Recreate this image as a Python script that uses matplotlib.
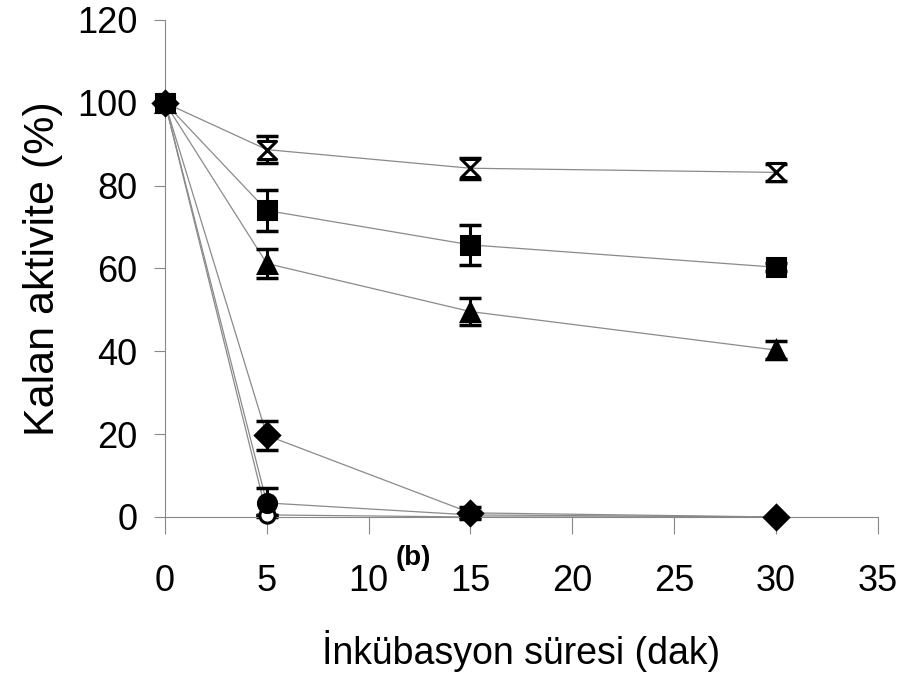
import matplotlib
matplotlib.use("Agg")
import matplotlib.pyplot as plt
from matplotlib.path import Path
import numpy as np

plt.rcParams['font.family'] = ['Liberation Sans', 'DejaVu Sans']

time = [0, 5, 15, 30]
s_hourglass = [100, 88.7, 84.2, 83.2]
e_hourglass = [0, 3.2, 2.5, 2.0]
s_square = [100, 74, 65.7, 60.3]
e_square = [0, 5.0, 4.8, 1.0]
s_triangle = [100, 61.2, 49.6, 40.3]
e_triangle = [0, 3.5, 3.2, 2.2]
s_diamond = [100, 19.7, 1.0, 0]
e_diamond = [0, 3.5, 1.5, 0]
s_circle = [100, 3.4, 0.5, 0]
e_circle = [0, 3.5, 0, 0]
s_open = [100, 0.5, 0, 0]
e_open = [0, 0, 0, 0]

xticks = [0, 5, 10, 15, 20, 25, 30, 35]
yticks = [0, 20, 40, 60, 80, 100, 120]

fig = plt.figure(figsize=(9.04, 6.79), dpi=100)
ax = fig.add_axes([0.1825, 0.2386, 0.7885, 0.732])

hourglass = Path([(-1, 1), (1, 1), (-1, -1), (1, -1), (-1, 1)],
                 [Path.MOVETO, Path.LINETO, Path.LINETO, Path.LINETO, Path.CLOSEPOLY])

series = [
    (s_hourglass, e_hourglass, hourglass, 'white', 13, None),
    (s_open, e_open, 'o', 'white', 11, [0, 1]),
    (s_circle, e_circle, 'o', 'black', 13, [0, 1]),
    (s_diamond, e_diamond, 'D', 'black', 12, None),
    (s_triangle, e_triangle, '^', 'black', 13, None),
    (s_square, e_square, 's', 'black', 13, None),
]
for ys, es, m, fc, ms, mev in series:
    ax.plot(time, ys, color='#8a8a8a', lw=0.9, zorder=1)
    ax.errorbar(time, ys, yerr=es, fmt='none', ecolor='black', elinewidth=2.2,
                capsize=8, capthick=2.5, zorder=2, clip_on=False)
    ax.plot(time, ys, linestyle='none', marker=m, markersize=ms, clip_on=False,
            markevery=mev,
            markerfacecolor=fc, markeredgecolor='black', markeredgewidth=2.2, zorder=3)

ax.set_xlim(0, 35)
ax.set_ylim(0, 120)
ax.set_xticks(xticks)
ax.set_yticks(yticks)
ax.tick_params(axis='x', direction='out', length=12, width=0.8, color='#888888',
               labelsize=26, pad=22)
ax.tick_params(axis='y', direction='out', length=8, width=0.8, color='#888888',
               labelsize=26, pad=12)
for s in ['top', 'right']:
    ax.spines[s].set_visible(False)
for s in ['left', 'bottom']:
    ax.spines[s].set_color('#888888')
    ax.spines[s].set_linewidth(0.8)

ax.set_ylabel('Kalan aktivite (%)', fontsize=31, labelpad=10)
ax.set_xlabel('İnkübasyon süresi (dak)', fontsize=27, labelpad=22)
fig.text(0.457, 0.178, '(b)', fontsize=20, fontweight='bold', ha='center', va='center')

fig.savefig('out.png', dpi=100)
